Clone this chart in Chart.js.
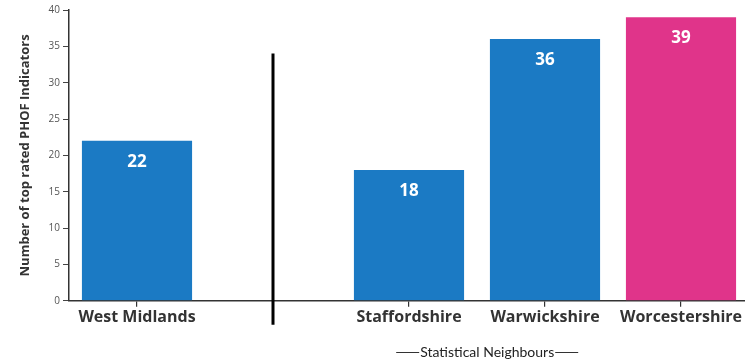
<!DOCTYPE html>
<html>
<head>
<meta charset="utf-8">
<script src="https://cdn.jsdelivr.net/npm/chart.js@4.4.1/dist/chart.umd.min.js"></script>
<style>
  html, body { margin: 0; padding: 0; background: #fff; overflow: hidden; }
  #clip { width: 745px; height: 361px; overflow: hidden; position: relative; }
  #wrap { width: 749px; height: 361px; position: relative; }
</style>
</head>
<body>
<div id="clip"><div id="wrap"><canvas id="c"></canvas></div></div>
<script>
// Areas compared; the empty slot holds the divider before the statistical neighbours
const categories = ['West Midlands', '', 'Staffordshire', 'Warwickshire', 'Worcestershire'];
const topRatedCounts = [22, null, 18, 36, 39];
const barColours = ['#1b7ac4', null, '#1b7ac4', '#1b7ac4', '#e0348a'];
const yTicks = [0, 5, 10, 15, 20, 25, 30, 35, 40];
const dividerTop = 34;
const groupLabel = 'Statistical Neighbours';

// White value labels inside the top of each bar
const valueLabels = {
  id: 'valueLabels',
  afterDatasetsDraw(chart) {
    const ctx = chart.ctx;
    const meta = chart.getDatasetMeta(0);
    ctx.save();
    ctx.fillStyle = '#ffffff';
    ctx.font = 'bold 17px "Open Sans", sans-serif';
    ctx.textAlign = 'center';
    ctx.textBaseline = 'middle';
    meta.data.forEach((bar, i) => {
      const v = topRatedCounts[i];
      if (v == null) return;
      ctx.fillText(String(v), bar.x, bar.y + 21);
    });
    ctx.restore();
  }
};

// Vertical divider and the "Statistical Neighbours" caption under the axis
const divider = {
  id: 'divider',
  afterDraw(chart) {
    const ctx = chart.ctx;
    const x = chart.scales.x;
    const y = chart.scales.y;
    const dx = x.getPixelForValue(1);
    ctx.save();
    ctx.strokeStyle = '#000';
    ctx.lineWidth = 3;
    ctx.beginPath();
    ctx.moveTo(dx, y.getPixelForValue(dividerTop));
    ctx.lineTo(dx, y.bottom + 24);
    ctx.stroke();

    const cx = x.getPixelForValue(2) + 0.575 * (x.getPixelForValue(3) - x.getPixelForValue(2));
    const cy = 352;
    ctx.font = '14px Lato, sans-serif';
    ctx.fillStyle = '#222';
    ctx.textAlign = 'center';
    ctx.textBaseline = 'middle';
    ctx.fillText(groupLabel, cx, cy);
    const w = ctx.measureText(groupLabel).width;
    ctx.strokeStyle = '#333';
    ctx.lineWidth = 1;
    ctx.beginPath();
    ctx.moveTo(cx - w / 2 - 24, cy + 0.5);
    ctx.lineTo(cx - w / 2 - 1, cy + 0.5);
    ctx.moveTo(cx + w / 2 + 1, cy + 0.5);
    ctx.lineTo(cx + w / 2 + 24, cy + 0.5);
    ctx.stroke();
    ctx.restore();
  }
};

new Chart(document.getElementById('c'), {
  type: 'bar',
  data: {
    labels: categories,
    datasets: [{
      data: topRatedCounts,
      backgroundColor: barColours,
      borderWidth: 0,
      categoryPercentage: 1,
      barPercentage: 0.81
    }]
  },
  options: {
    responsive: true,
    maintainAspectRatio: false,
    animation: false,
    layout: { padding: { top: 10, right: 0, bottom: 33, left: 0 } },
    plugins: { legend: { display: false }, tooltip: { enabled: false } },
    scales: {
      x: {
        grid: { drawOnChartArea: false, offset: false, tickLength: 6, color: '#333', lineWidth: 1.2 },
        border: { color: '#333', width: 1.5 },
        ticks: {
          color: '#333',
          font: { family: '"Open Sans", sans-serif', weight: 'bold', size: 16 },
          padding: 1,
          maxRotation: 0,
          autoSkip: false
        }
      },
      y: {
        min: 0,
        max: 40,
        afterBuildTicks(scale) { scale.ticks = yTicks.map(v => ({ value: v })); },
        afterFit(scale) { scale.width = 69; },
        grid: { drawOnChartArea: false, tickLength: 6, color: '#444' },
        border: { color: '#333', width: 1.5 },
        ticks: {
          color: '#555',
          font: { family: '"Open Sans", sans-serif', size: 10 },
          padding: 3
        },
        title: {
          display: true,
          text: 'Number of top rated PHOF Indicators',
          color: '#333',
          font: { family: '"Open Sans", sans-serif', weight: 'bold', size: 13 },
          padding: { top: 17, bottom: 0 }
        }
      }
    }
  },
  plugins: [valueLabels, divider]
});
</script>
</body>
</html>
